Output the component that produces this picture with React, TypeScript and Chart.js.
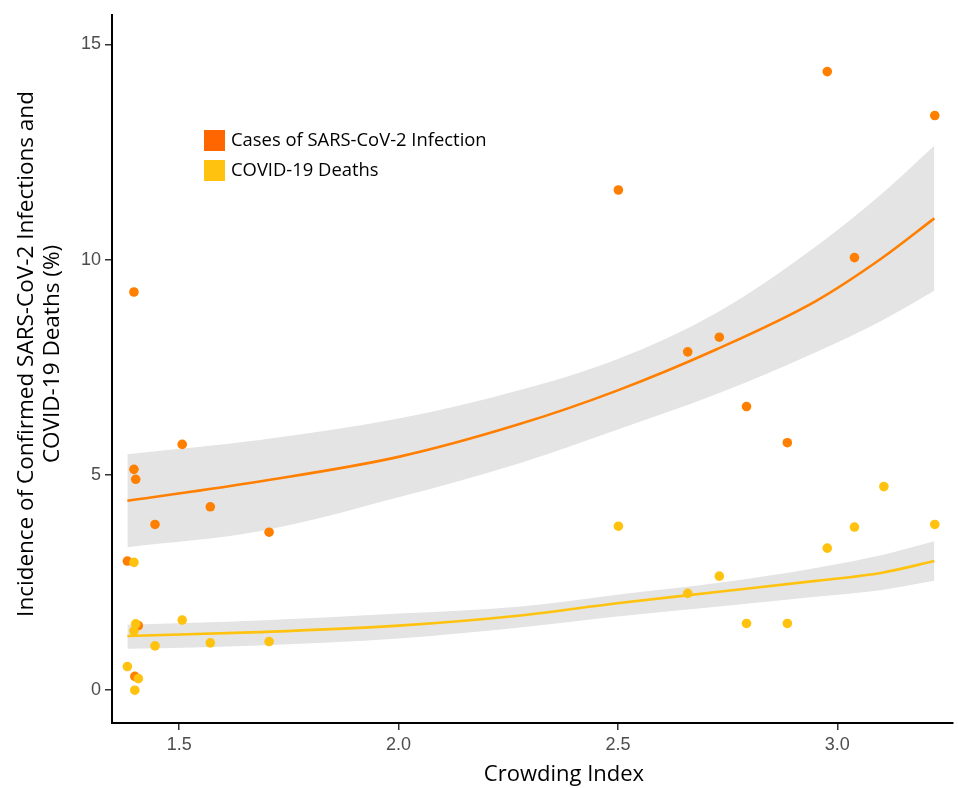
import React, { useEffect, useRef } from 'react';
import { Chart, registerables } from 'chart.js';
Chart.register(...registerables);

// Scatter data (Crowding Index vs incidence %)
const casesX = [1.382, 1.397, 1.397, 1.401, 1.407, 1.399, 1.445, 1.507, 1.571, 1.705, 2.501, 2.659, 2.731, 2.793, 2.886, 2.977, 3.039, 3.222];
const casesY = [3.00, 9.25, 5.13, 4.90, 1.50, 0.32, 3.85, 5.71, 4.26, 3.67, 11.62, 7.86, 8.20, 6.59, 5.75, 14.37, 10.05, 13.35];
const deathsX = [1.382, 1.397, 1.401, 1.397, 1.407, 1.399, 1.445, 1.507, 1.571, 1.705, 2.501, 2.659, 2.731, 2.793, 2.886, 2.977, 3.039, 3.106, 3.222];
const deathsY = [0.55, 2.97, 1.54, 1.38, 0.27, 0.00, 1.03, 1.63, 1.10, 1.13, 3.81, 2.25, 2.65, 1.55, 1.55, 3.30, 3.79, 4.73, 3.85];

// Fitted curves and confidence bands
const fitX = [1.382, 1.683, 2.0, 2.272, 2.498, 2.725, 2.951, 3.102, 3.221];
const casesFit = [4.40, 4.85, 5.42, 6.17, 6.96, 7.92, 9.04, 10.04, 10.96];
const casesUpper = [5.48, 5.81, 6.31, 6.96, 7.69, 8.77, 10.31, 11.54, 12.65];
const casesLower = [3.32, 3.69, 4.48, 5.26, 6.05, 6.88, 7.85, 8.59, 9.28];
const deathsFit = [1.26, 1.35, 1.50, 1.73, 2.02, 2.28, 2.54, 2.73, 3.00];
const deathsUpper = [1.52, 1.62, 1.78, 1.94, 2.22, 2.49, 2.84, 3.14, 3.46];
const deathsLower = [0.96, 1.04, 1.20, 1.45, 1.71, 1.94, 2.17, 2.33, 2.54];

const xTickValues = [1.5, 2.0, 2.5, 3.0];
const yTickValues = [0, 5, 10, 15];
const legendLabels = ['Cases of SARS-CoV-2 Infection', 'COVID-19 Deaths'];
const legendColors = ['#FF6600', '#FFC20E'];
const xTitle = 'Crowding Index';
const yTitle = ['Incidence of Confirmed SARS-CoV-2 Infections and', 'COVID-19 Deaths (%)'];

const ORANGE = '#FF7F00';
const YELLOW = '#FFC20E';
const BAND = '#E4E4E4';

const zip = (xs: number[], ys: number[]) => xs.map((x, i) => ({ x, y: ys[i] }));

const overlayPlugin = {
  id: 'overlay',
  afterDraw(chart: any) {
    const ctx = chart.ctx;
    ctx.save();
    ctx.font = "18.4px 'Open Sans'";
    ctx.textBaseline = 'middle';
    ctx.textAlign = 'left';
    legendLabels.forEach((label, i) => {
      const y = 130 + i * 30;
      ctx.fillStyle = legendColors[i];
      ctx.fillRect(204, y, 21, 21);
      ctx.fillStyle = '#000';
      ctx.fillText(label, 231, y + 11);
    });
    // x axis title
    ctx.font = "22px 'Open Sans'";
    ctx.textAlign = 'center';
    ctx.fillStyle = '#000';
    ctx.fillText(xTitle, 564, 775);
    // y axis title (two lines, rotated)
    ctx.save();
    ctx.translate(27, 354);
    ctx.rotate(-Math.PI / 2);
    ctx.font = "22.5px 'Open Sans'";
    yTitle.forEach((line, i) => {
      ctx.fillText(line, 0, i * 26);
    });
    ctx.restore();
    ctx.restore();
  },
};

export default function App() {
  const ref = useRef<HTMLCanvasElement>(null);
  useEffect(() => {
    document.body.style.margin = '0';
    const ctx = ref.current!;
    const tickFont = { family: "'Liberation Sans Narrow', 'Liberation Sans', Arial, sans-serif", size: 18 };
    const curve = { cubicInterpolationMode: 'monotone', pointRadius: 0 };
    const chart = new Chart(ctx, {
      type: 'line',
      data: {
        datasets: [
          { label: 'casesUpper', data: zip(fitX, casesUpper), fill: '+1', backgroundColor: BAND, borderWidth: 0, ...curve, order: 10 },
          { label: 'casesLower', data: zip(fitX, casesLower), fill: false, borderWidth: 0, ...curve, order: 10 },
          { label: 'deathsUpper', data: zip(fitX, deathsUpper), fill: '+1', backgroundColor: BAND, borderWidth: 0, ...curve, order: 10 },
          { label: 'deathsLower', data: zip(fitX, deathsLower), fill: false, borderWidth: 0, ...curve, order: 10 },
          { label: 'casesFit', data: zip(fitX, casesFit), borderColor: ORANGE, borderWidth: 2.6, ...curve, fill: false, order: 5 },
          { label: 'deathsFit', data: zip(fitX, deathsFit), borderColor: YELLOW, borderWidth: 2.6, ...curve, fill: false, order: 5 },
          { label: legendLabels[0], data: zip(casesX, casesY), showLine: false, pointRadius: 4.8, pointBackgroundColor: ORANGE, pointBorderWidth: 0, borderColor: ORANGE, order: 2 },
          { label: legendLabels[1], data: zip(deathsX, deathsY), showLine: false, pointRadius: 4.8, pointBackgroundColor: YELLOW, pointBorderWidth: 0, borderColor: YELLOW, order: 1 },
        ],
      },
      options: {
        animation: false,
        responsive: false,
        devicePixelRatio: 1,
        layout: { padding: { top: 10, right: 0, left: 0, bottom: 0 } },
        plugins: { legend: { display: false }, tooltip: { enabled: false } },
        scales: {
          x: {
            type: 'linear',
            min: 1.347,
            max: 3.264,
            afterFit: (s: any) => { s.height = 65; },
            afterBuildTicks: (s: any) => { s.ticks = xTickValues.map((v) => ({ value: v })); },
            ticks: { font: tickFont, color: '#4D4D4D', padding: 4, callback: (v: any) => Number(v).toFixed(1), maxRotation: 0 },
            grid: { drawOnChartArea: false, drawTicks: true, tickLength: 7, color: '#333', lineWidth: 1.5 },
            border: { display: true, color: '#000', width: 2 },
          },
          y: {
            type: 'linear',
            min: -0.762,
            max: 15.69,
            afterFit: (s: any) => { s.width = 112; },
            afterBuildTicks: (s: any) => { s.ticks = yTickValues.map((v) => ({ value: v })); },
            ticks: { font: tickFont, color: '#4D4D4D', padding: 4, callback: (v: any) => String(v) },
            grid: { drawOnChartArea: false, drawTicks: true, tickLength: 7, color: '#333', lineWidth: 1.5 },
            border: { display: true, color: '#000', width: 2 },
          },
        },
      },
      plugins: [overlayPlugin],
    } as any);
    return () => chart.destroy();
  }, []);
  return (
    <canvas ref={ref} width={958} height={788} style={{ position: 'absolute', left: 0, top: 0, width: 958, height: 788 }} />
  );
}
